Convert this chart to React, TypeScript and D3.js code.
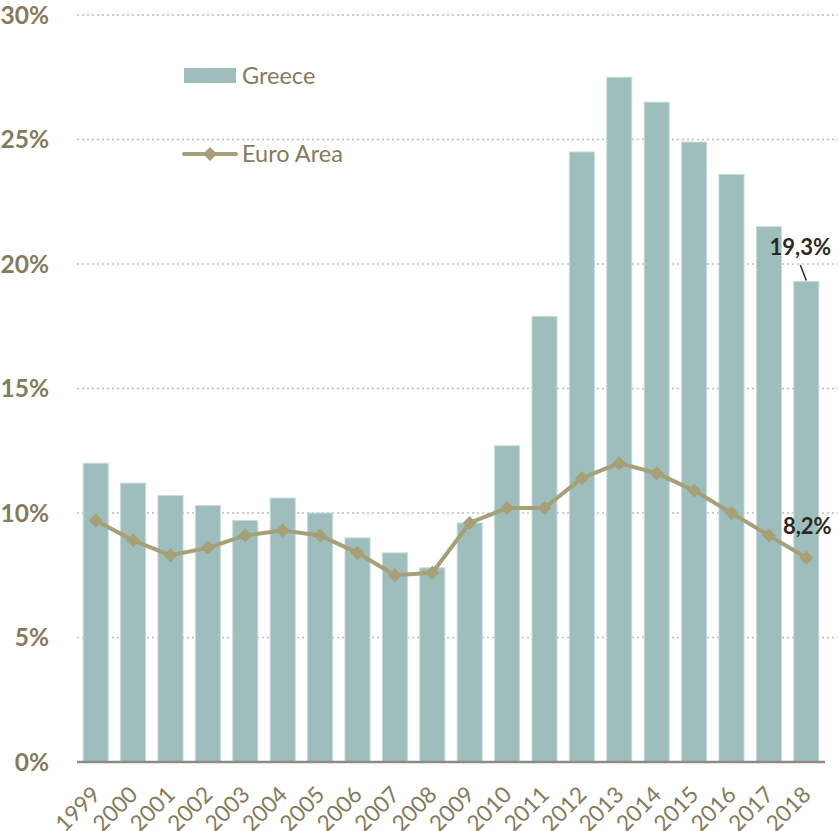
import React from 'react';
import * as d3 from 'd3';

// Unemployment rate, Greece vs Euro Area
const years = ['1999', '2000', '2001', '2002', '2003', '2004', '2005', '2006', '2007', '2008',
  '2009', '2010', '2011', '2012', '2013', '2014', '2015', '2016', '2017', '2018'];
const greece = [12.0, 11.2, 10.7, 10.3, 9.7, 10.6, 10.0, 9.0, 8.4, 7.8,
  9.6, 12.7, 17.9, 24.5, 27.5, 26.5, 24.9, 23.6, 21.5, 19.3];
const euroArea = [9.7, 8.9, 8.3, 8.6, 9.1, 9.3, 9.1, 8.4, 7.5, 7.6,
  9.6, 10.2, 10.2, 11.4, 12.0, 11.6, 10.9, 10.0, 9.1, 8.2];
const yTicks = [0, 5, 10, 15, 20, 25, 30];

const W = 838;
const H = 831;
const FONT = 'Lato, "Open Sans", sans-serif';
const TXT = '#857A5B';
const BAR = '#9DBEBC';
const LINE = '#A5A078';

const App: React.FC = () => {
  const x = d3.scaleBand<string>().domain(years).range([77, 825]).paddingInner(0.33).paddingOuter(0.165);
  const y = d3.scaleLinear().domain([0, 30]).range([762, 15]);
  const cx = (yr: string) => (x(yr) ?? 0) + x.bandwidth() / 2;

  const line = d3.line<number>()
    .x((_, i) => cx(years[i]))
    .y(d => y(d));

  const diamond = (px: number, py: number, r = 7) =>
    `M${px},${py - r}L${px + r},${py}L${px},${py + r}L${px - r},${py}Z`;

  const last = years.length - 1;
  const lastX = cx(years[last]);
  const fmt = (v: number) => v.toFixed(1).replace('.', ',') + '%';

  return (
    <svg width={W} height={H} style={{ position: 'absolute', left: 0, top: 0, background: '#fff' }}
      fontFamily={FONT}>
      {/* gridlines */}
      {yTicks.filter(t => t > 0).map(t => (
        <line key={t} x1={77} x2={838} y1={y(t)} y2={y(t)}
          stroke="#BDBDBD" strokeWidth={1.5} strokeDasharray="2,3" />
      ))}
      {/* y labels */}
      {yTicks.map(t => (
        <text key={t} x={49} y={y(t)} dy="0.36em" textAnchor="end"
          fontSize={24.5} fontWeight={700} fill={TXT}>{t}%</text>
      ))}
      {/* bars */}
      {greece.map((v, i) => (
        <rect key={years[i]} x={x(years[i])} y={y(v)} width={x.bandwidth()} height={y(0) - y(v)}
          fill={BAR} stroke="#C9DCDA" strokeWidth={1} />
      ))}
      {/* baseline */}
      <line x1={77} x2={825} y1={y(0)} y2={y(0)} stroke="#8F8A85" strokeWidth={2.5} />
      {/* euro area line */}
      <path d={line(euroArea) ?? ''} fill="none" stroke={LINE} strokeWidth={4} strokeLinejoin="round" />
      {euroArea.map((v, i) => (
        <path key={years[i]} d={diamond(cx(years[i]), y(v))} fill={LINE} />
      ))}
      {/* x labels */}
      {years.map(yr => (
        <text key={yr} transform={`translate(${cx(yr) + 6},${y(0) + 34}) rotate(-45)`}
          textAnchor="end" fontSize={22.5} fill={TXT}>{yr}</text>
      ))}
      {/* annotations */}
      <text x={lastX - 6} y={255} textAnchor="middle" fontSize={22} fontWeight={700} fill="#2B2A22">
        {fmt(greece[last])}
      </text>
      <line x1={lastX - 6} x2={lastX + 0} y1={265} y2={y(greece[last]) - 1} stroke="#2B2A22" strokeWidth={1.5} />
      <text x={lastX + 1} y={y(euroArea[last]) - 24} textAnchor="middle" fontSize={22} fontWeight={700} fill="#2B2A22">
        {fmt(euroArea[last])}
      </text>
      {/* legend */}
      <rect x={184} y={68} width={52} height={15} fill={BAR} />
      <text x={242} y={84} fontSize={23.5} fill={TXT}>Greece</text>
      <line x1={184} x2={236} y1={154} y2={154} stroke={LINE} strokeWidth={4} strokeLinecap="round" />
      <path d={diamond(210, 154)} fill={LINE} />
      <text x={242} y={162} fontSize={23.5} fill={TXT}>Euro Area</text>
    </svg>
  );
};

export default App;
